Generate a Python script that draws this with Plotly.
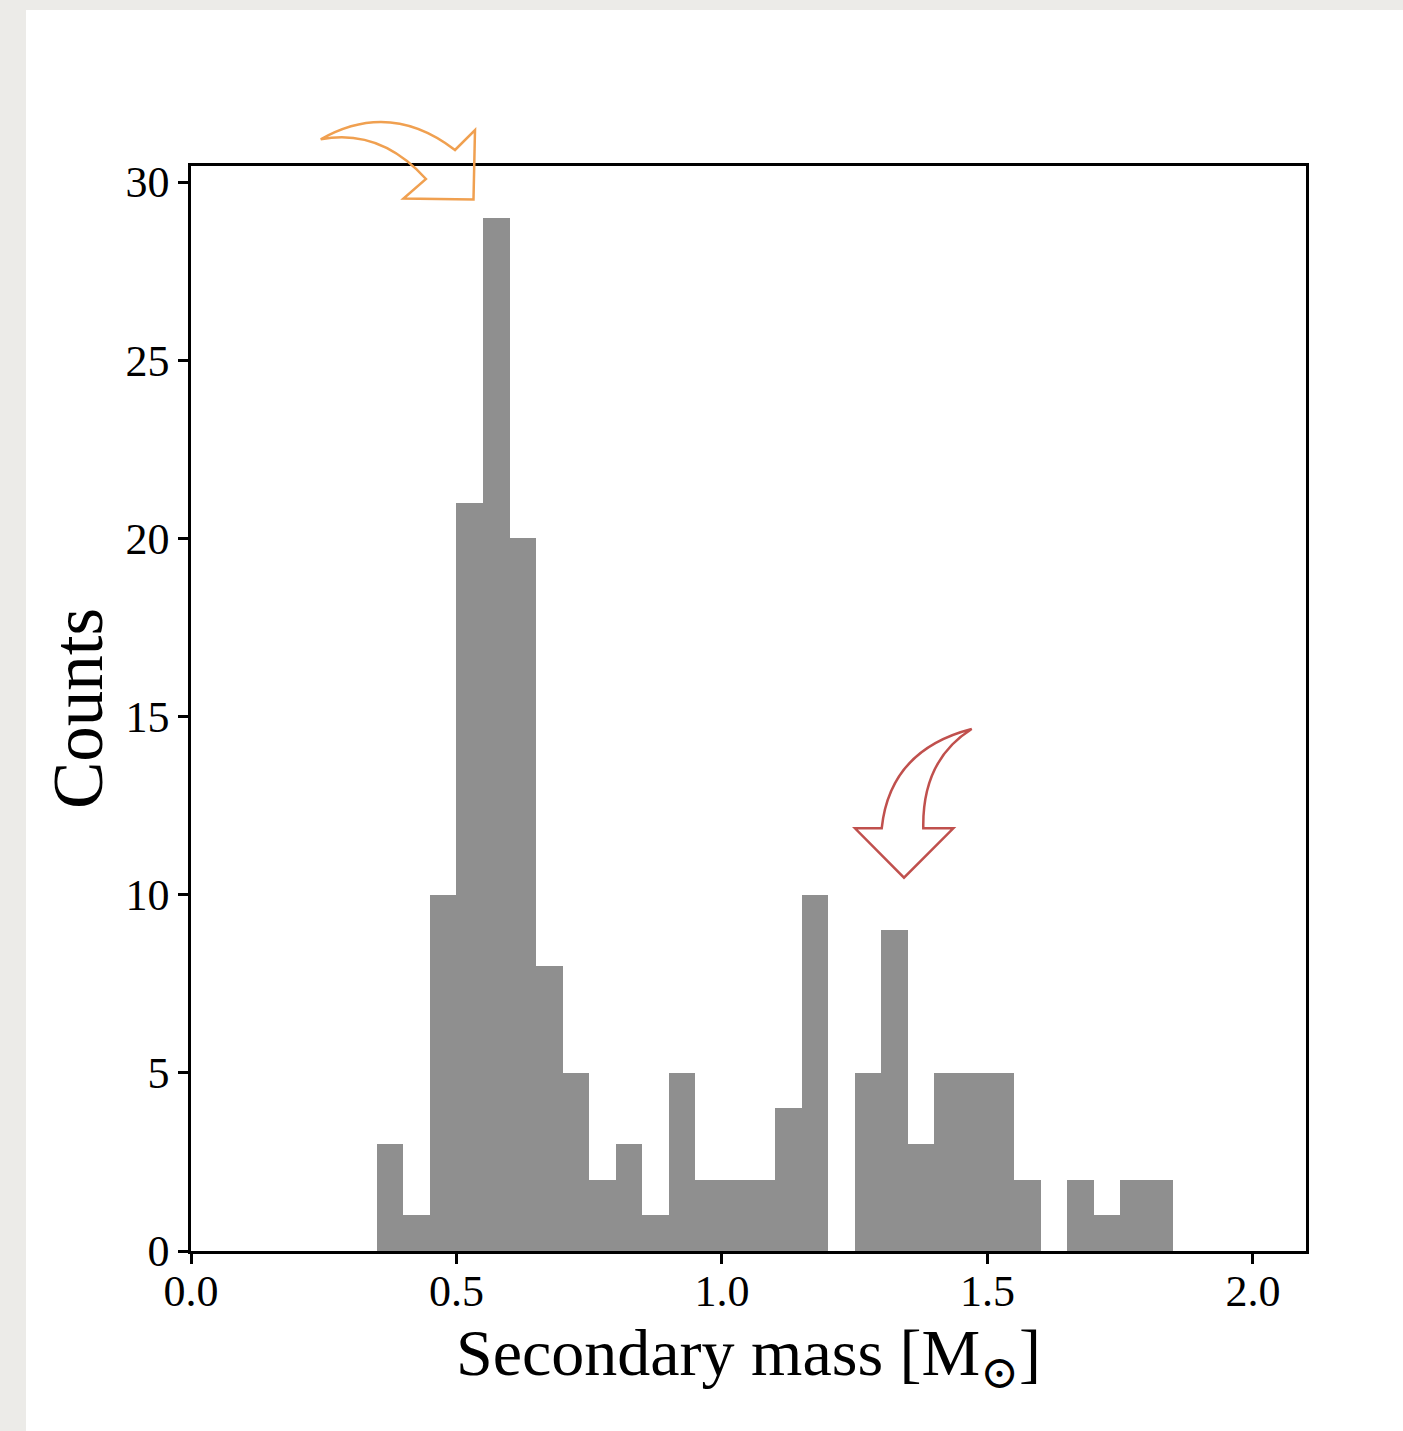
import plotly.graph_objects as go

# Histogram data (bin width 0.05, first bin starts at 0.35)
bin_start = 0.35
bin_width = 0.05
counts = [3, 1, 10, 21, 29, 20, 8, 5, 2, 3, 1, 5, 2, 2, 2, 4, 10, 0,
          5, 9, 3, 5, 5, 5, 2, 0, 2, 1, 2, 2]
bin_centers = [bin_start + bin_width * (i + 0.5) for i in range(len(counts))]

x_ticks = [0.0, 0.5, 1.0, 1.5, 2.0]
y_ticks = [0, 5, 10, 15, 20, 25, 30]

W, H = 1403, 1431
L, R, T, B = 191, 1306, 166, 1251  # plot-area pixel box

def px(x, y):
    """pixel -> paper coordinates"""
    return (x - L) / (R - L), (B - y) / (B - T)

def path(cmds):
    out = []
    for c in cmds:
        op, pts = c[0], c[1:]
        s = op
        for (x, y) in pts:
            u, v = px(x, y)
            s += f" {u:.5f},{v:.5f}"
        out.append(s)
    return " ".join(out) + " Z"

font_family = "Liberation Serif, DejaVu Serif, serif"

fig = go.Figure()
fig.add_trace(go.Bar(
    x=bin_centers, y=counts, width=bin_width,
    marker=dict(color="#8f8f8f", line=dict(width=0)),
    hoverinfo="skip",
))

orange_arrow = path([
    ("M", (320.7, 139.3)),
    ("Q", (390, 100), (455, 150)),
    ("L", (475, 130)),
    ("L", (473.5, 199.5)),
    ("L", (403.5, 198.5)),
    ("L", (426, 179)),
    ("Q", (380, 128), (320.7, 139.3)),
])
red_arrow = path([
    ("M", (971.7, 729)),
    ("Q", (890, 750), (881.7, 828.3)),
    ("L", (855, 828.3)),
    ("L", (904, 877.7)),
    ("L", (953.3, 828.3)),
    ("L", (923.3, 828.3)),
    ("Q", (922, 760), (971.7, 729)),
])

bx0, by0 = px(26, 10)
bx1, by1 = px(W, H)

fig.update_layout(
    width=W, height=H,
    margin=dict(l=L, r=W - R, t=T, b=H - B, pad=0),
    paper_bgcolor="#ecebe8",
    plot_bgcolor="white",
    bargap=0,
    showlegend=False,
    font=dict(family=font_family, color="black", size=43),
    shapes=[
        dict(type="rect", xref="paper", yref="paper", x0=bx0, y0=by0, x1=bx1, y1=by1,
             fillcolor="white", line=dict(width=0), layer="below"),
        dict(type="path", xref="paper", yref="paper", path=orange_arrow,
             fillcolor="rgba(0,0,0,0)", line=dict(color="#f0a050", width=2.5)),
        dict(type="path", xref="paper", yref="paper", path=red_arrow,
             fillcolor="rgba(0,0,0,0)", line=dict(color="#c0504d", width=2.5)),
    ],
    xaxis=dict(
        range=[0, 2.1], tickvals=x_ticks, tickformat=".1f",
        showline=True, mirror=True, linecolor="black", linewidth=2.5,
        ticks="outside", ticklen=10, tickwidth=2.5, tickcolor="black",
        showgrid=False, zeroline=False,
        tickfont=dict(size=44), ticklabelstandoff=-11,
        title=dict(text="Secondary mass [M<sub>⊙</sub>]", font=dict(size=66), standoff=14),
    ),
    yaxis=dict(
        range=[0, 30.45], tickvals=y_ticks,
        showline=True, mirror=True, linecolor="black", linewidth=2.5,
        ticks="outside", ticklen=10, tickwidth=2.5, tickcolor="black",
        showgrid=False, zeroline=False,
        tickfont=dict(size=44),
        title=dict(text="Counts", font=dict(size=71), standoff=0),
    ),
)

fig.write_html("out.html")
